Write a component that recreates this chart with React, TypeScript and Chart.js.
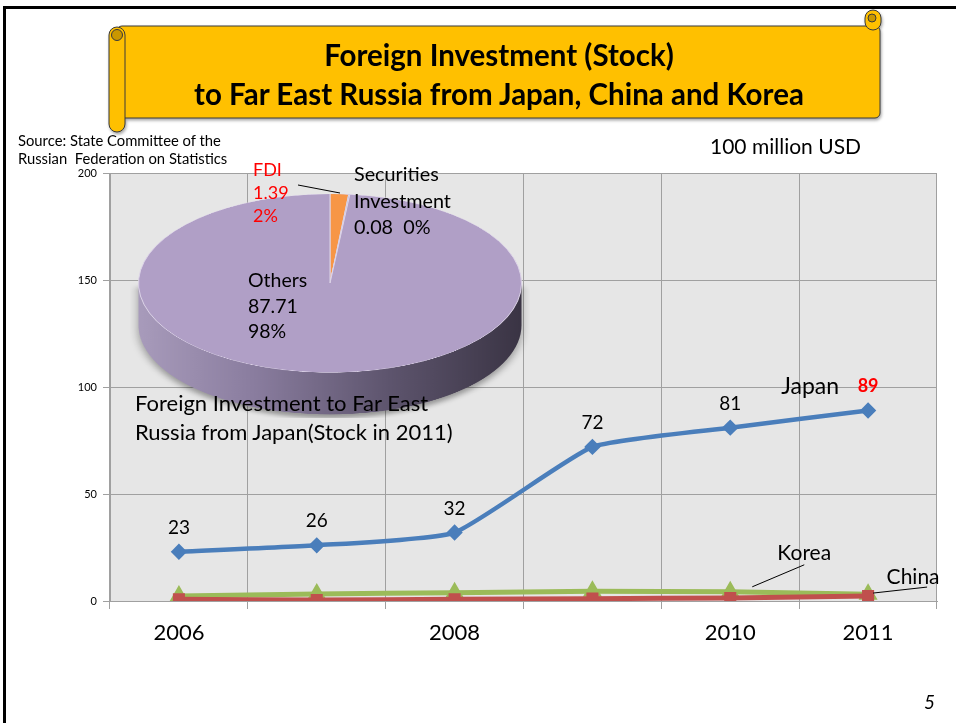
import React, { useEffect, useRef } from "react";
import { Chart, registerables } from "chart.js";

Chart.register(...registerables);

const years = ["2006", "2007", "2008", "2009", "2010", "2011"];
const shownYears = ["2006", "2008", "2010", "2011"];
const japan = [23, 26, 32, 72, 81, 89];
const korea = [2.3, 3.3, 3.9, 4.5, 4.3, 3.2];
const china = [0.8, 0.5, 0.8, 1.1, 1.4, 2.3];
const yMin = 0;
const yMax = 200;
const yStep = 50;

const pieLabels = ["FDI", "Securities Investment", "Others"];
const pieValues = [1.39, 0.08, 87.71];
const piePercents = ["2%", "0%", "98%"];

const FONT = "Lato, 'Open Sans', sans-serif";

const PIE_S = 0.466; // vertical squash of the pie
const PIE_DEPTH = 90; // side depth in canvas px (before squash)

export default function App() {
  const lineRef = useRef<HTMLCanvasElement | null>(null);
  const pieRef = useRef<HTMLCanvasElement | null>(null);

  useEffect(() => {
    const bgPlugin = {
      id: "plotBg",
      beforeDraw(chart: any) {
        const { ctx, chartArea } = chart;
        ctx.save();
        ctx.fillStyle = "#e6e6e6";
        ctx.fillRect(chartArea.left, chartArea.top, chartArea.right - chartArea.left, chartArea.bottom - chartArea.top);
        ctx.restore();
      },
    };
    const labelPlugin = {
      id: "dataLabels",
      afterDatasetsDraw(chart: any) {
        const ctx = chart.ctx;
        ctx.save();
        ctx.textAlign = "center";
        ctx.textBaseline = "middle";
        const jm = chart.getDatasetMeta(0);
        jm.data.forEach((pt: any, i: number) => {
          const v = japan[i];
          if (i === japan.length - 1) {
            ctx.font = `bold 18px ${FONT}`;
            ctx.fillStyle = "#ff0000";
            ctx.fillText(String(v), pt.x, pt.y - 24);
            ctx.font = `23px ${FONT}`;
            ctx.fillStyle = "#000";
            ctx.textAlign = "right";
            ctx.fillText("Japan", pt.x - 29, pt.y - 24);
            ctx.textAlign = "center";
          } else {
            ctx.font = `19px ${FONT}`;
            ctx.fillStyle = "#000";
            ctx.fillText(String(v), pt.x, pt.y - 24);
          }
        });
        // Korea annotation
        const km = chart.getDatasetMeta(2).data[4];
        ctx.strokeStyle = "#000";
        ctx.lineWidth = 1;
        ctx.beginPath();
        ctx.moveTo(km.x + 22, km.y - 5);
        ctx.lineTo(km.x + 74, km.y - 27);
        ctx.stroke();
        ctx.font = `21px ${FONT}`;
        ctx.fillStyle = "#000";
        ctx.fillText("Korea", km.x + 74, km.y - 39);
        // China annotation
        const cm = chart.getDatasetMeta(1).data[5];
        ctx.beginPath();
        ctx.moveTo(cm.x + 5, cm.y - 3);
        ctx.lineTo(cm.x + 59, cm.y - 9);
        ctx.stroke();
        ctx.fillText("China", cm.x + 45, cm.y - 19);
        ctx.restore();
      },
    };

    const line = new Chart(lineRef.current as HTMLCanvasElement, {
      type: "line",
      data: {
        labels: years,
        datasets: [
          {
            label: "Japan",
            data: japan,
            borderColor: "#4a7ebb",
            backgroundColor: "#4a7ebb",
            borderWidth: 4.5,
            pointStyle: "rectRot",
            pointRadius: 5,
            tension: 0.15,
          },
          {
            label: "China",
            data: china,
            borderColor: "#c0504d",
            backgroundColor: "#c0504d",
            borderWidth: 5,
            pointStyle: "rect",
            pointRadius: 5,
            tension: 0.15,
          },
          {
            label: "Korea",
            data: korea,
            borderColor: "#9bbb59",
            backgroundColor: "#9bbb59",
            borderWidth: 5,
            pointStyle: "triangle",
            pointRadius: 6,
            tension: 0.15,
          },
        ],
      },
      options: {
        animation: false,
        responsive: false,
        layout: { padding: { top: 173, right: 19, bottom: 0, left: 0 } },
        plugins: { legend: { display: false }, tooltip: { enabled: false } },
        scales: {
          x: {
            offset: true,
            grid: { offset: true, color: "#a0a0a0", tickLength: 8 },
            border: { color: "#a0a0a0" },
            ticks: {
              color: "#000",
              font: { family: FONT, size: 22 },
              padding: 11,
              maxRotation: 0,
              autoSkip: false,
              callback: (_v: any, i: number) => (shownYears.includes(years[i]) ? years[i] : ""),
            },
            afterFit: (s: any) => {
              s.height = 122;
            },
          },
          y: {
            min: yMin,
            max: yMax,
            grid: { color: "#a0a0a0", tickLength: 7 },
            border: { color: "#a0a0a0" },
            ticks: { stepSize: yStep, color: "#000", font: { family: FONT, size: 11 }, padding: 6 },
            afterFit: (s: any) => {
              s.width = 110;
            },
          },
        },
      },
      plugins: [bgPlugin, labelPlugin],
    });

    const sidePlugin = {
      id: "pieSide",
      beforeDatasetsDraw(chart: any) {
        const arc = chart.getDatasetMeta(0).data[0];
        if (!arc) return;
        const { x, y, outerRadius: r } = arc;
        const ctx = chart.ctx;
        ctx.save();
        const g = ctx.createLinearGradient(x - r, 0, x + r, 0);
        g.addColorStop(0, "#a89bbb");
        g.addColorStop(0.3, "#8a7d9f");
        g.addColorStop(0.65, "#5e556e");
        g.addColorStop(1, "#3a3444");
        ctx.shadowColor = "rgba(0,0,0,0.35)";
        ctx.shadowBlur = 10;
        ctx.shadowOffsetY = 8;
        ctx.fillStyle = g;
        ctx.beginPath();
        ctx.moveTo(x + r, y);
        ctx.lineTo(x + r, y + PIE_DEPTH);
        ctx.arc(x, y + PIE_DEPTH, r, 0, Math.PI, false);
        ctx.lineTo(x - r, y);
        ctx.closePath();
        ctx.fill();
        ctx.restore();
      },
    };

    const pie = new Chart(pieRef.current as HTMLCanvasElement, {
      type: "pie",
      data: {
        labels: pieLabels,
        datasets: [
          {
            data: pieValues,
            backgroundColor: ["#f79646", "#4f81bd", "#b09fc6"],
            borderColor: "#ddd4e8",
            borderWidth: 1,
          },
        ],
      },
      options: {
        animation: false,
        responsive: false,
        layout: { padding: { top: 8, left: 8, right: 8, bottom: 8 + PIE_DEPTH } },
        plugins: { legend: { display: false }, tooltip: { enabled: false } },
      },
      plugins: [sidePlugin],
    });

    return () => {
      line.destroy();
      pie.destroy();
    };
  }, []);

  const abs = (x: number, y: number, extra: any = {}) => ({
    position: "absolute" as const,
    left: x,
    top: y,
    whiteSpace: "nowrap" as const,
    ...extra,
  });

  return (
    <div
      style={{
        position: "absolute",
        left: 0,
        top: 0,
        width: 956,
        height: 723,
        overflow: "hidden",
        background: "#fff",
        fontFamily: FONT,
        color: "#000",
      }}
    >
      <div
        style={{
          position: "absolute",
          left: 3,
          top: 6,
          width: 980,
          height: 740,
          borderLeft: "3px solid #000",
          borderTop: "3px solid #000",
        }}
      />
      <canvas ref={lineRef} width={956} height={723} style={{ position: "absolute", left: 0, top: 0 }} />
      <canvas
        ref={pieRef}
        width={400}
        height={400 + PIE_DEPTH}
        style={{
          position: "absolute",
          left: 130,
          top: 190,
          transform: `scaleY(${PIE_S})`,
          transformOrigin: "top left",
        }}
      />
      {/* banner */}
      <svg width={956} height={140} style={{ position: "absolute", left: 0, top: 0, filter: "drop-shadow(1px 2px 1.5px rgba(0,0,0,0.35))" }}>
        <rect x={117} y={26} width={763} height={92} rx={5} fill="#ffc000" stroke="#3a3a3a" strokeWidth={1} />
        <rect x={865} y={10} width={16} height={20} rx={8} fill="#ffc000" stroke="#3a3a3a" strokeWidth={1} />
        <circle cx={872} cy={18} r={4} fill="#c99700" stroke="#3a3a3a" strokeWidth={1} />
        <rect x={109} y={27} width={16} height={105} rx={8} fill="#ffc000" stroke="#3a3a3a" strokeWidth={1} />
        <circle cx={117} cy={35} r={5.5} fill="#c99700" stroke="#3a3a3a" strokeWidth={1} />
      </svg>
      <div style={abs(0, 35, { width: 998, textAlign: "center", fontWeight: 700, fontSize: 29.5, lineHeight: "39px" })}>
        Foreign Investment (Stock)
        <br />
        to Far East Russia from Japan, China and Korea
      </div>
      <div style={abs(18, 131, { fontSize: 14.8, lineHeight: "18px" })}>
        Source: State Committee of the
        <br />
        Russian&nbsp; Federation on Statistics
      </div>
      <div style={abs(710, 133, { fontSize: 21 })}>100 million USD</div>
      {/* pie labels */}
      <div style={abs(253, 158, { fontSize: 18, lineHeight: "23px", color: "#ff0000" })}>
        {pieLabels[0]}
        <br />
        {pieValues[0].toFixed(2)}
        <br />
        {piePercents[0]}
      </div>
      <svg width={956} height={723} style={{ position: "absolute", left: 0, top: 0 }}>
        <line x1={298} y1={185} x2={340} y2={193} stroke="#000" strokeWidth={1} />
      </svg>
      <div style={abs(354, 160, { fontSize: 19.8, lineHeight: "26.5px" })}>
        Securities
        <br />
        Investment
        <br />
        {pieValues[1].toFixed(2)}&nbsp; {piePercents[1]}
      </div>
      <div style={abs(248, 267, { fontSize: 19.5, lineHeight: "25.5px" })}>
        {pieLabels[2]}
        <br />
        {pieValues[2].toFixed(2)}
        <br />
        {piePercents[2]}
      </div>
      <div style={abs(135, 388, { fontSize: 22, lineHeight: "29px" })}>
        Foreign Investment to Far East
        <br />
        Russia from Japan(Stock in 2011)
      </div>
      <div style={abs(924, 690, { fontSize: 19, fontStyle: "italic" })}>5</div>
    </div>
  );
}
